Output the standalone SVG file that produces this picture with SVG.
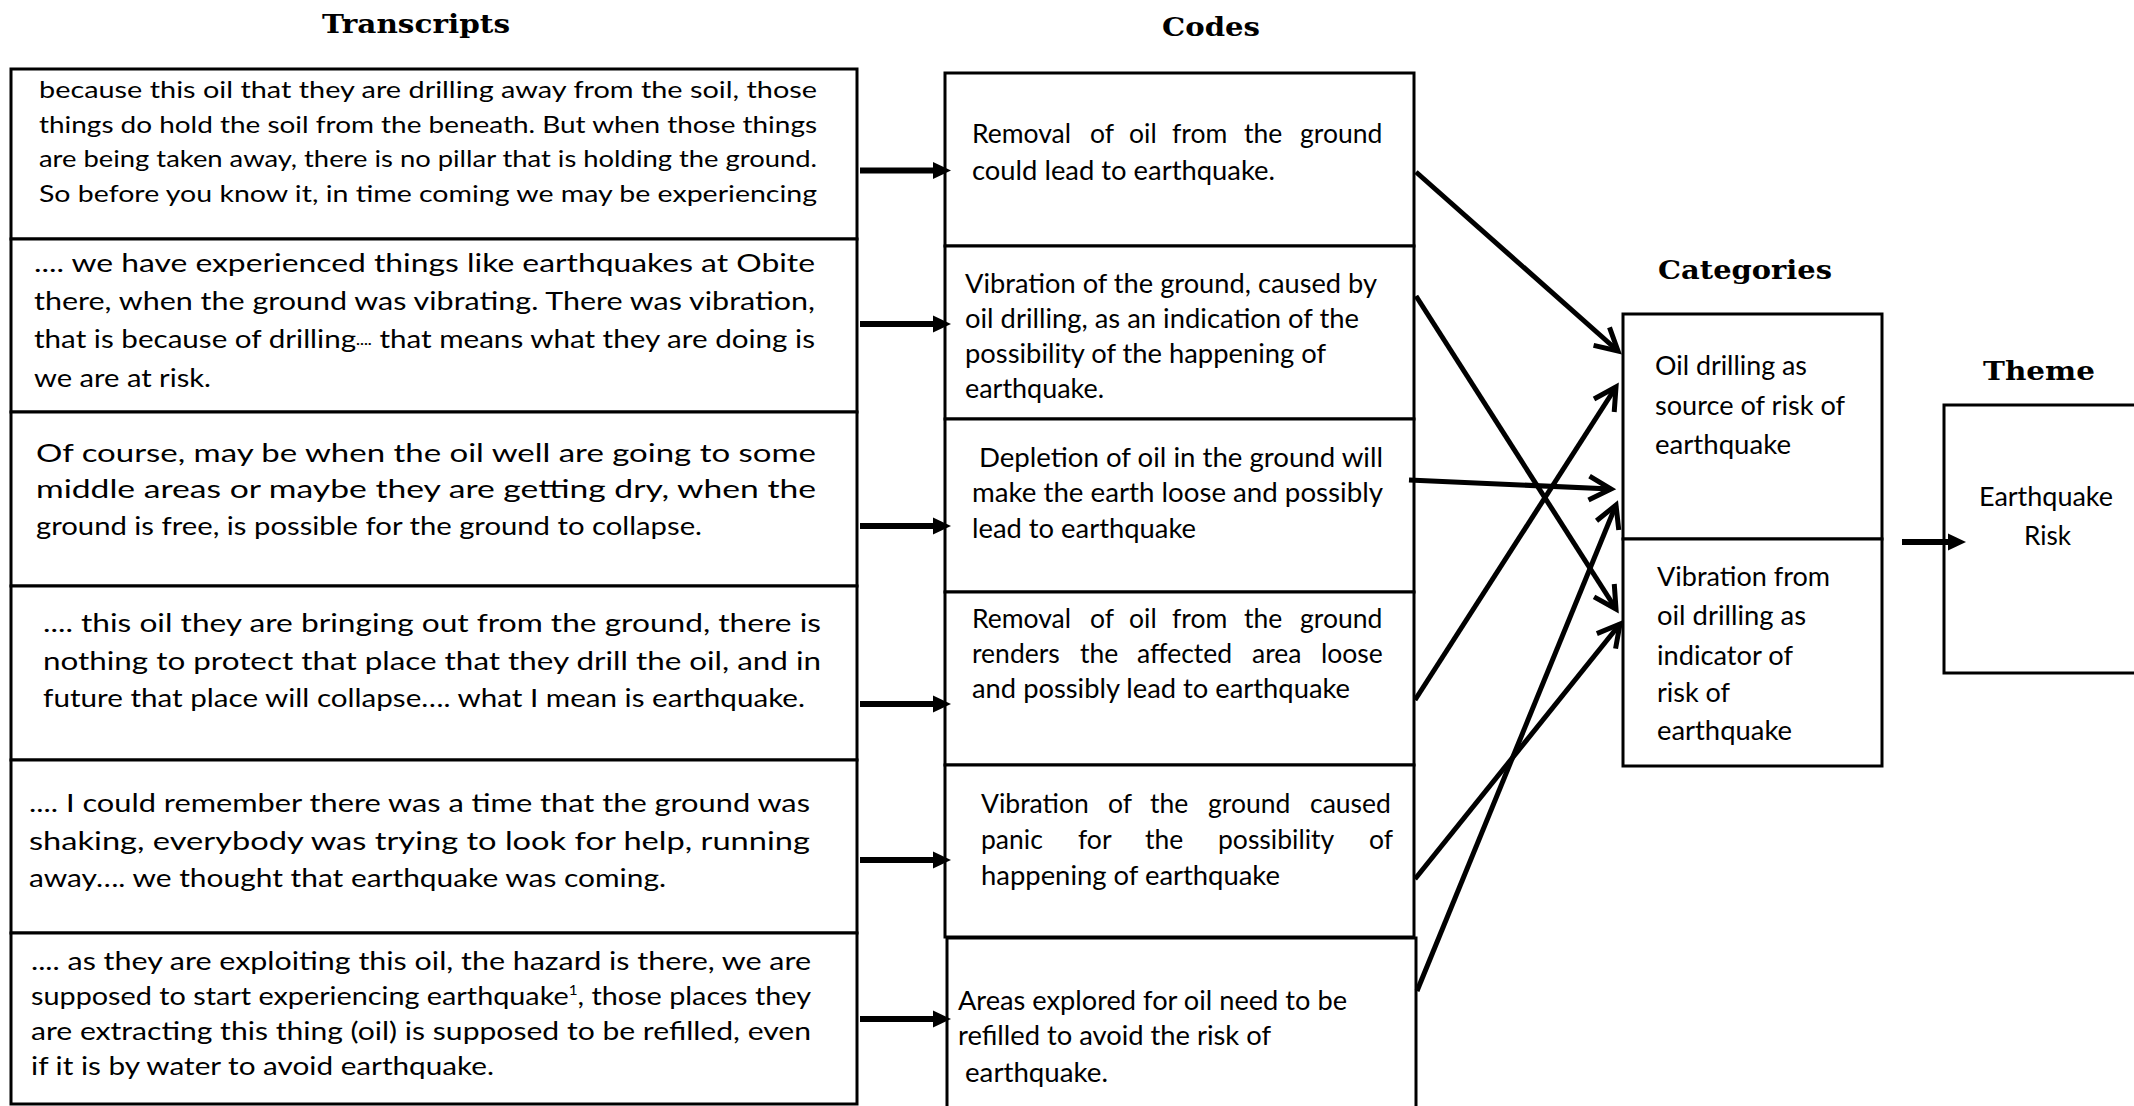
<svg xmlns="http://www.w3.org/2000/svg" width="2134" height="1106" viewBox="0 0 2134 1106">
<style>
.box{fill:#fff;stroke:#000;stroke-width:3}
.tr{font-family:Lato,"Open Sans",sans-serif;font-size:24.5px;fill:#000}
.tr1{font-size:23.5px}
.tr2{font-size:25.5px}
.cd{font-family:Lato,"Open Sans",sans-serif;font-size:26.5px;fill:#000}
.ttl{font-family:"DejaVu Serif","Liberation Serif",serif;font-weight:bold;font-size:26px;fill:#000}
.lk{stroke:#000;stroke-width:5;fill:none}
.la{stroke:#000;stroke-width:6;fill:none}
</style>
<defs>
<marker id="headFill" markerUnits="userSpaceOnUse" viewBox="0 0 18 18" refX="0" refY="9" markerWidth="18" markerHeight="18" orient="auto">
<path d="M0,0.5 L18,9 L0,17.5 Z" fill="#000"/>
</marker>
<marker id="headOpen" markerUnits="userSpaceOnUse" viewBox="-30 -16 40 32" refX="0" refY="0" markerWidth="40" markerHeight="32" orient="auto">
<path d="M-22,-12 L0,0 L-22,12" fill="none" stroke="#000" stroke-width="5"/>
</marker>
</defs>
<rect width="2134" height="1106" fill="#fff"/>

<g id="titles">
<text class="ttl" x="322" y="33" textLength="188" lengthAdjust="spacingAndGlyphs">Transcripts</text>
<text class="ttl" x="1162" y="36" textLength="98" lengthAdjust="spacingAndGlyphs">Codes</text>
<text class="ttl" x="1658" y="279" textLength="174" lengthAdjust="spacingAndGlyphs">Categories</text>
<text class="ttl" x="1983" y="380" textLength="112" lengthAdjust="spacingAndGlyphs">Theme</text>
</g>

<g id="transcript1">
<rect class="box" x="11" y="69" width="846" height="170"/>
<text class="tr tr1" x="39" y="98" textLength="778" lengthAdjust="spacingAndGlyphs">because this oil that they are drilling away from the soil, those</text>
<text class="tr tr1" x="39" y="133" textLength="778" lengthAdjust="spacingAndGlyphs">things do hold the soil from the beneath. But when those things</text>
<text class="tr tr1" x="39" y="167" textLength="778" lengthAdjust="spacingAndGlyphs">are being taken away, there is no pillar that is holding the ground.</text>
<text class="tr tr1" x="39" y="202" textLength="778" lengthAdjust="spacingAndGlyphs">So before you know it, in time coming we may be experiencing</text>
</g>
<g id="transcript2">
<rect class="box" x="11" y="239" width="846" height="173"/>
<text class="tr tr2" x="34" y="272" textLength="781" lengthAdjust="spacingAndGlyphs">.... we have experienced things like earthquakes at Obite</text>
<text class="tr tr2" x="34" y="310" textLength="781" lengthAdjust="spacingAndGlyphs">there, when the ground was vibrating. There was vibration,</text>
<text class="tr tr2" x="34" y="348" textLength="781" lengthAdjust="spacingAndGlyphs">that is because of drilling<tspan font-size="13">····</tspan> that means what they are doing is</text>
<text class="tr tr2" x="34" y="387" textLength="177" lengthAdjust="spacingAndGlyphs">we are at risk.</text>
</g>
<g id="transcript3">
<rect class="box" x="11" y="412" width="846" height="174"/>
<text class="tr" x="36" y="462" textLength="780" lengthAdjust="spacingAndGlyphs">Of course, may be when the oil well are going to some</text>
<text class="tr" x="36" y="498" textLength="780" lengthAdjust="spacingAndGlyphs">middle areas or maybe they are getting dry, when the</text>
<text class="tr" x="36" y="535" textLength="666" lengthAdjust="spacingAndGlyphs">ground is free, is possible for the ground to collapse.</text>
</g>
<g id="transcript4">
<rect class="box" x="11" y="586" width="846" height="174"/>
<text class="tr" x="43" y="632" textLength="778" lengthAdjust="spacingAndGlyphs">.... this oil they are bringing out from the ground, there is</text>
<text class="tr" x="43" y="670" textLength="778" lengthAdjust="spacingAndGlyphs">nothing to protect that place that they drill the oil, and in</text>
<text class="tr" x="43" y="707" textLength="762" lengthAdjust="spacingAndGlyphs">future that place will collapse…. what I mean is earthquake.</text>
</g>
<g id="transcript5">
<rect class="box" x="11" y="760" width="846" height="173"/>
<text class="tr" x="29" y="812" textLength="781" lengthAdjust="spacingAndGlyphs">.... I could remember there was a time that the ground was</text>
<text class="tr" x="29" y="850" textLength="781" lengthAdjust="spacingAndGlyphs">shaking, everybody was trying to look for help, running</text>
<text class="tr" x="29" y="887" textLength="637" lengthAdjust="spacingAndGlyphs">away…. we thought that earthquake was coming.</text>
</g>
<g id="transcript6">
<rect class="box" x="11" y="933" width="846" height="171"/>
<text class="tr" x="31" y="970" textLength="780" lengthAdjust="spacingAndGlyphs">.... as they are exploiting this oil, the hazard is there, we are</text>
<text class="tr" x="31" y="1005" textLength="780" lengthAdjust="spacingAndGlyphs">supposed to start experiencing earthquake<tspan font-size="13" dy="-10">1</tspan><tspan dy="10">, those places they</tspan></text>
<text class="tr" x="31" y="1040" textLength="780" lengthAdjust="spacingAndGlyphs">are extracting this thing (oil) is supposed to be refilled, even</text>
<text class="tr" x="31" y="1075" textLength="463" lengthAdjust="spacingAndGlyphs">if it is by water to avoid earthquake.</text>
</g>

<g id="code1">
<rect class="box" x="945" y="73" width="469" height="173"/>
<text class="cd" y="143"><tspan x="972">Removal</tspan><tspan x="1090">of</tspan><tspan x="1129">oil</tspan><tspan x="1172">from</tspan><tspan x="1244">the</tspan><tspan x="1300">ground</tspan></text>
<text class="cd" x="972" y="180" textLength="303" lengthAdjust="spacingAndGlyphs">could lead to earthquake.</text>
</g>
<g id="code2">
<rect class="box" x="945" y="246" width="469" height="173"/>
<text class="cd" x="965" y="293" textLength="412" lengthAdjust="spacingAndGlyphs">Vibration of the ground, caused by</text>
<text class="cd" x="965" y="328" textLength="394" lengthAdjust="spacingAndGlyphs">oil drilling, as an indication of the</text>
<text class="cd" x="965" y="363" textLength="361" lengthAdjust="spacingAndGlyphs">possibility of the happening of</text>
<text class="cd" x="965" y="398" textLength="139" lengthAdjust="spacingAndGlyphs">earthquake.</text>
</g>
<g id="code3">
<rect class="box" x="945" y="419" width="469" height="173"/>
<text class="cd" x="979" y="467" textLength="404" lengthAdjust="spacingAndGlyphs">Depletion of oil in the ground will</text>
<text class="cd" x="972" y="502" textLength="411" lengthAdjust="spacingAndGlyphs">make the earth loose and possibly</text>
<text class="cd" x="972" y="538" textLength="224" lengthAdjust="spacingAndGlyphs">lead to earthquake</text>
</g>
<g id="code4">
<rect class="box" x="945" y="592" width="469" height="173"/>
<text class="cd" y="628"><tspan x="972">Removal</tspan><tspan x="1090">of</tspan><tspan x="1129">oil</tspan><tspan x="1172">from</tspan><tspan x="1244">the</tspan><tspan x="1300">ground</tspan></text>
<text class="cd" y="663"><tspan x="972">renders</tspan><tspan x="1080">the</tspan><tspan x="1137">affected</tspan><tspan x="1252">area</tspan><tspan x="1321">loose</tspan></text>
<text class="cd" x="972" y="698" textLength="378" lengthAdjust="spacingAndGlyphs">and possibly lead to earthquake</text>
</g>
<g id="code5">
<rect class="box" x="945" y="765" width="469" height="172"/>
<text class="cd" y="813"><tspan x="981">Vibration</tspan><tspan x="1108">of</tspan><tspan x="1150">the</tspan><tspan x="1208">ground</tspan><tspan x="1310">caused</tspan></text>
<text class="cd" y="849"><tspan x="981">panic</tspan><tspan x="1078">for</tspan><tspan x="1145">the</tspan><tspan x="1218">possibility</tspan><tspan x="1369">of</tspan></text>
<text class="cd" x="981" y="885" textLength="299" lengthAdjust="spacingAndGlyphs">happening of earthquake</text>
</g>
<g id="code6">
<rect class="box" x="947" y="938" width="469" height="180"/>
<text class="cd" x="958" y="1010" textLength="389" lengthAdjust="spacingAndGlyphs">Areas explored for oil need to be</text>
<text class="cd" x="958" y="1045" textLength="313" lengthAdjust="spacingAndGlyphs">refilled to avoid the risk of</text>
<text class="cd" x="965" y="1082" textLength="143" lengthAdjust="spacingAndGlyphs">earthquake.</text>
</g>

<g id="category1">
<rect class="box" x="1623" y="314" width="259" height="225"/>
<text class="cd" x="1655" y="375" textLength="152" lengthAdjust="spacingAndGlyphs">Oil drilling as</text>
<text class="cd" x="1655" y="415" textLength="190" lengthAdjust="spacingAndGlyphs">source of risk of</text>
<text class="cd" x="1655" y="454" textLength="136" lengthAdjust="spacingAndGlyphs">earthquake</text>
</g>
<g id="category2">
<rect class="box" x="1623" y="539" width="259" height="227"/>
<text class="cd" x="1657" y="586" textLength="173" lengthAdjust="spacingAndGlyphs">Vibration from</text>
<text class="cd" x="1657" y="625" textLength="149" lengthAdjust="spacingAndGlyphs">oil drilling as</text>
<text class="cd" x="1657" y="665" textLength="136" lengthAdjust="spacingAndGlyphs">indicator of</text>
<text class="cd" x="1657" y="702" textLength="73" lengthAdjust="spacingAndGlyphs">risk of</text>
<text class="cd" x="1657" y="740" textLength="135" lengthAdjust="spacingAndGlyphs">earthquake</text>
</g>

<g id="theme">
<rect class="box" x="1944" y="405" width="210" height="268"/>
<text class="cd" x="1979" y="506" textLength="134" lengthAdjust="spacingAndGlyphs">Earthquake</text>
<text class="cd" x="2024" y="545" textLength="47" lengthAdjust="spacingAndGlyphs">Risk</text>
</g>

<g id="connectors">
<line class="la" x1="860" y1="170.5" x2="933" y2="170.5" marker-end="url(#headFill)"/>
<line class="la" x1="860" y1="324" x2="933" y2="324" marker-end="url(#headFill)"/>
<line class="la" x1="860" y1="526" x2="933" y2="526" marker-end="url(#headFill)"/>
<line class="la" x1="860" y1="704" x2="933" y2="704" marker-end="url(#headFill)"/>
<line class="la" x1="860" y1="860" x2="933" y2="860" marker-end="url(#headFill)"/>
<line class="la" x1="860" y1="1019" x2="933" y2="1019" marker-end="url(#headFill)"/>
<line class="lk" x1="1416" y1="172" x2="1618" y2="351" marker-end="url(#headOpen)"/>
<line class="lk" x1="1416" y1="296" x2="1616" y2="609" marker-end="url(#headOpen)"/>
<line class="lk" x1="1409" y1="480" x2="1611" y2="489" marker-end="url(#headOpen)"/>
<line class="lk" x1="1415" y1="700" x2="1616" y2="387" marker-end="url(#headOpen)"/>
<line class="lk" x1="1415" y1="879" x2="1620" y2="624" marker-end="url(#headOpen)"/>
<line class="lk" x1="1417" y1="991" x2="1616" y2="505" marker-end="url(#headOpen)"/>
<line class="la" x1="1902" y1="542" x2="1948" y2="542" marker-end="url(#headFill)"/>
</g>
</svg>
